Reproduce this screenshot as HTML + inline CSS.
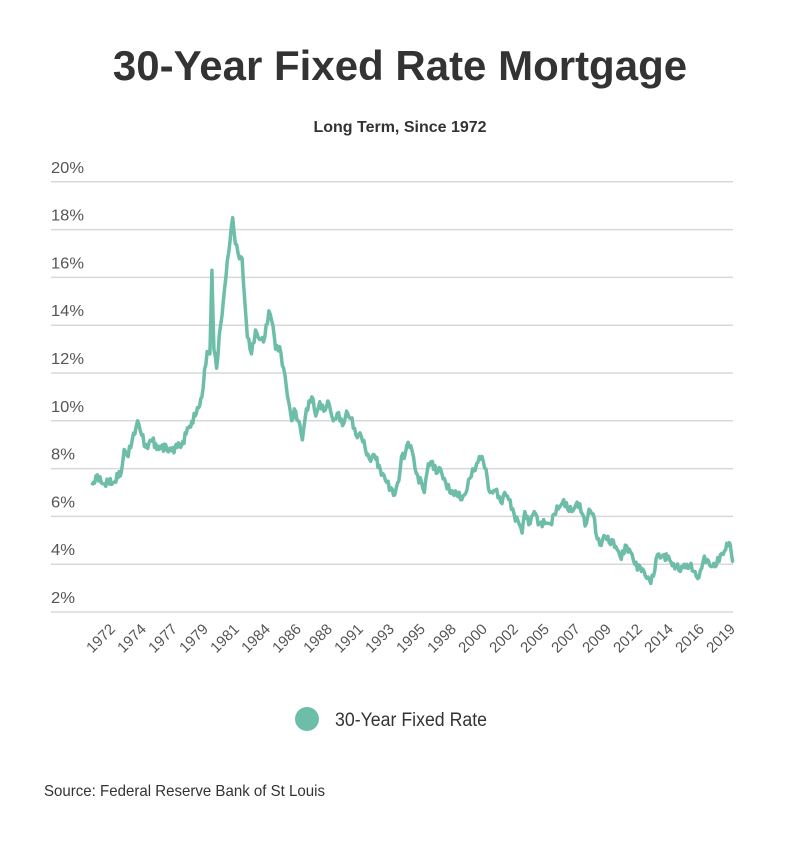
<!DOCTYPE html>
<html><head><meta charset="utf-8"><style>
html,body{margin:0;padding:0;background:#fff;}
body{width:800px;height:839px;overflow:hidden;font-family:"Liberation Sans",sans-serif;}
</style></head><body>
<svg id="s" width="800" height="839" xmlns="http://www.w3.org/2000/svg" font-family="Liberation Sans, sans-serif">
<text x="400" y="80" text-anchor="middle" font-size="42" font-weight="bold" fill="#333">30-Year Fixed Rate Mortgage</text>
<text x="400" y="132" text-anchor="middle" font-size="16" font-weight="bold" fill="#333">Long Term, Since 1972</text>
<g id="grid"></g>
<g id="xl"></g>
<path id="line" fill="none" stroke="#6dbda9" stroke-width="3.5" stroke-linejoin="round"/>
<circle cx="307" cy="719" r="12" fill="#6dbda9"/>
<text x="335" y="726" font-size="19" fill="#333" textLength="152" lengthAdjust="spacingAndGlyphs">30-Year Fixed Rate</text>
<text x="44" y="796" font-size="16" fill="#333" textLength="281" lengthAdjust="spacingAndGlyphs">Source:  Federal Reserve Bank of St Louis</text>
</svg>
<script>
var ns="http://www.w3.org/2000/svg";
function Y(v){return 612-(v-2)*23.9;}
var g=document.getElementById('grid');
for(var v=2;v<=20;v+=2){
 var y=Y(v);
 var l=document.createElementNS(ns,'line');
 l.setAttribute('x1',51);l.setAttribute('x2',733);l.setAttribute('y1',y);l.setAttribute('y2',y);
 l.setAttribute('stroke','#d8d8d8');l.setAttribute('stroke-width',1.5);g.appendChild(l);
 var t=document.createElementNS(ns,'text');
 t.setAttribute('x',51);t.setAttribute('y',y-9);t.setAttribute('font-size',16);t.setAttribute('fill','#555');
 t.setAttribute('textLength',v<10?24:33);t.setAttribute('lengthAdjust','spacingAndGlyphs');
 t.textContent=v+'%';g.appendChild(t);
}
var yrs=[1972,1974,1977,1979,1981,1984,1986,1988,1991,1993,1995,1998,2000,2002,2005,2007,2009,2012,2014,2016,2019];
var xl=document.getElementById('xl');
yrs.forEach(function(yr,i){
 var x=116+i*31,y=630;
 var t=document.createElementNS(ns,'text');
 t.setAttribute('x',x);t.setAttribute('y',y);t.setAttribute('font-size',15);t.setAttribute('fill','#555');
 t.setAttribute('text-anchor','end');t.setAttribute('transform','rotate(-45 '+x+' '+y+')');
 t.textContent=yr;xl.appendChild(t);
});
var d=[1971.3,7.3,1971.6,7.7,1972.0,7.4,1972.5,7.4,1973.0,7.45,1973.5,7.9,1973.7,8.8,1974.0,8.5,1974.3,9.2,1974.7,10.0,1975.0,9.4,1975.3,8.9,1975.8,9.2,1976.3,8.8,1976.8,9.0,1977.0,8.7,1977.5,8.9,1978.0,9.0,1978.5,9.7,1979.0,10.2,1979.5,11.0,1979.9,12.9,1980.1,12.8,1980.25,16.3,1980.4,13.0,1980.6,12.2,1980.9,14.0,1981.1,15.0,1981.4,16.7,1981.6,17.5,1981.8,18.5,1982.0,17.4,1982.2,17.0,1982.5,16.8,1982.7,15.0,1982.9,13.5,1983.2,12.8,1983.5,13.8,1983.8,13.4,1984.1,13.3,1984.5,14.6,1984.8,14.0,1985.0,13.0,1985.3,13.1,1985.6,12.2,1985.9,11.0,1986.2,10.0,1986.4,10.5,1986.7,10.0,1987.0,9.2,1987.3,10.5,1987.7,11.0,1988.0,10.2,1988.3,10.8,1988.6,10.4,1988.8,10.6,1989.0,10.7,1989.3,10.0,1989.6,10.3,1990.0,9.8,1990.3,10.4,1990.6,10.1,1991.0,9.4,1991.3,9.5,1991.7,8.8,1992.0,8.4,1992.3,8.6,1992.8,8.0,1993.2,7.5,1993.6,7.2,1993.9,6.9,1994.2,7.5,1994.4,8.5,1994.7,8.7,1994.9,9.1,1995.2,8.7,1995.5,7.8,1995.9,7.4,1996.1,7.0,1996.4,8.2,1996.7,8.3,1997.0,7.8,1997.3,8.0,1997.7,7.4,1998.0,7.0,1998.5,7.0,1998.8,6.7,1999.1,6.9,1999.5,7.6,1999.8,7.9,2000.2,8.5,2000.5,8.3,2000.8,7.6,2001.0,7.0,2001.4,7.1,2001.8,6.6,2002.1,7.0,2002.4,6.7,2002.8,6.1,2003.1,5.8,2003.4,5.3,2003.6,6.2,2004.0,5.7,2004.3,6.2,2004.7,5.7,2005.1,5.7,2005.5,5.7,2005.8,6.1,2006.2,6.4,2006.5,6.7,2006.8,6.3,2007.1,6.2,2007.5,6.6,2007.9,6.1,2008.1,5.6,2008.4,6.3,2008.7,6.1,2008.9,5.3,2009.2,4.8,2009.5,5.2,2009.9,4.9,2010.2,5.0,2010.5,4.6,2010.8,4.2,2011.1,4.8,2011.5,4.5,2011.8,4.0,2012.2,3.9,2012.6,3.5,2012.9,3.35,2013.2,3.5,2013.5,4.4,2013.8,4.3,2014.0,4.4,2014.5,4.1,2014.9,3.9,2015.2,3.7,2015.5,4.0,2015.9,3.9,2016.2,3.7,2016.6,3.45,2016.9,4.1,2017.2,4.2,2017.6,3.9,2017.9,3.95,2018.2,4.4,2018.5,4.55,2018.85,4.9,2019.0,4.5,2019.2,4.1];
var p='',k=0;
for(var i=0;i<d.length-2;i+=2){
 var x0=d[i],v0=d[i+1],x1=d[i+2],v1=d[i+3];
 var n=Math.max(1,Math.round((x1-x0)/0.09));
 for(var j=0;j<n;j++){
  var f=j/n,xx=x0+(x1-x0)*f,vv=v0+(v1-v0)*f;
  if(j>0){k++;vv+=0.13*Math.sin(k*2.7)+0.08*Math.sin(k*5.3);}
  p+=(p?'L':'M')+(92+(xx-1971.3)*13.4).toFixed(1)+' '+Y(vv).toFixed(1);
 }
}
p+='L'+(92+(2019.2-1971.3)*13.4).toFixed(1)+' '+Y(4.1).toFixed(1);
document.getElementById('line').setAttribute('d',p);
</script>
</body></html>
